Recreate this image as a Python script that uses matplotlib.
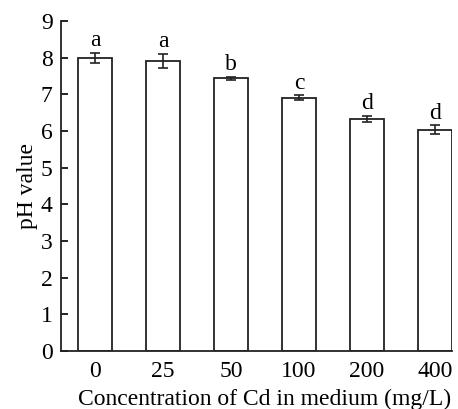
import numpy as np
import matplotlib.pyplot as plt

plt.rcParams['font.family'] = ['Liberation Serif', 'DejaVu Serif']

concentrations = ['0', '25', '50', '100', '200', '400']
ph_values = [8.00, 7.91, 7.44, 6.91, 6.33, 6.04]
ph_errors = [0.14, 0.20, 0.04, 0.07, 0.09, 0.12]
letters = ['a', 'a', 'b', 'c', 'd', 'd']

fig = plt.figure(figsize=(4.58, 4.09), dpi=100)
ax = fig.add_axes([61 / 458, 1 - 351 / 409, 391 / 458, 330 / 409])

x = np.arange(len(concentrations))
ax.bar(x, ph_values, width=0.5, color='white', edgecolor='#222222', linewidth=1.3,
       yerr=ph_errors, capsize=3.5, error_kw=dict(ecolor='#222222', elinewidth=1.2, capthick=1.2))

for xi, v, e, lab in zip(x, ph_values, ph_errors, letters):
    ax.text(xi, v + e + 0.04, lab, ha='center', va='bottom', fontsize=17)

ax.set_xlim(-0.5, 5.25)
ax.set_ylim(0, 9)
ax.set_yticks(range(0, 10))
ax.set_xticks(x)
ax.set_xticklabels(concentrations)
ax.tick_params(axis='y', direction='in', length=5, width=1.2, labelsize=17, pad=6)
ax.tick_params(axis='x', length=0, labelsize=17, pad=7)
for s in ['top', 'right']:
    ax.spines[s].set_visible(False)
for s in ['left', 'bottom']:
    ax.spines[s].set_linewidth(1.3)
    ax.spines[s].set_color('#222222')

ax.set_xlabel('Concentration of Cd in medium (mg/L)', fontsize=17)
ax.xaxis.set_label_coords(0.52, -0.115)
ax.set_ylabel('pH value', fontsize=17, labelpad=2)

fig.savefig('out.png', dpi=100)
